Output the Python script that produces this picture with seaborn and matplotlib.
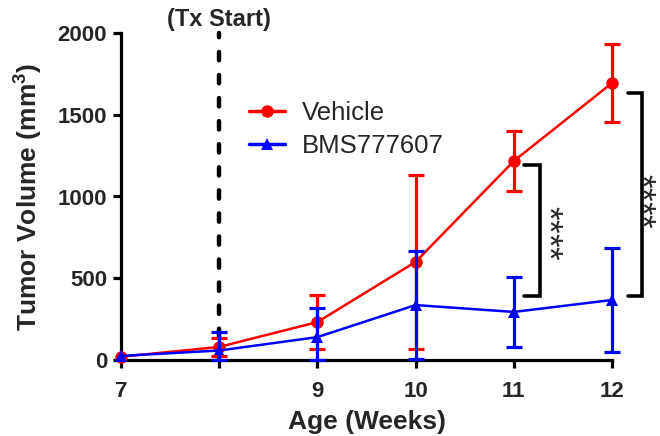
import matplotlib
matplotlib.use("Agg")
import matplotlib.pyplot as plt
import seaborn as sns
import pandas as pd
import numpy as np

# ---- data ----
weeks = [7, 8, 9, 10, 11, 12]
vehicle_mean = [20, 80, 232, 600, 1217, 1694]
vehicle_sd = [np.nan, 55, 165, 531, 183, 238]
bms_mean = [25, 58, 140, 336, 294, 367]
bms_sd = [np.nan, 113, 178, 331, 214, 320]
groups = ["Vehicle", "BMS777607"]
xtick_vals = [7, 8, 9, 10, 11, 12]
xtick_labels = ["7", "", "9", "10", "11", "12"]
ytick_vals = [0, 500, 1000, 1500, 2000]
tx_start_week = 8
# significance brackets: (week, top, bottom)
brackets = [(11, 1193, 391), (12, 1633, 391)]
sig_label = "{*}{*}{*}{*}"

sns.set_style("ticks")
plt.rcParams["font.family"] = ["Liberation Sans", "DejaVu Sans"]
plt.rcParams["mathtext.fontset"] = "custom"
plt.rcParams["mathtext.bf"] = "Liberation Sans:bold"
plt.rcParams["mathtext.rm"] = "Liberation Sans"
plt.rcParams["lines.scale_dashes"] = False

df = pd.DataFrame({
    "week": weeks * 2,
    "volume": vehicle_mean + bms_mean,
    "sd": vehicle_sd + bms_sd,
    "group": [groups[0]] * len(weeks) + [groups[1]] * len(weeks),
})
colors = {"Vehicle": "#ff0000", "BMS777607": "#0000ff"}
markers = {"Vehicle": "o", "BMS777607": "^"}

fig = plt.figure(figsize=(6.6, 4.36), dpi=100)
ax = fig.add_axes([121 / 660, 1 - 360 / 436, 491 / 660, 327 / 436])

# dashed treatment start line
ax.plot([tx_start_week, tx_start_week], [0, 2000], color="black", lw=3.2,
        linestyle=(0, (6.0, 10.6)), dash_capstyle="round", zorder=1, clip_on=False)

sns.lineplot(data=df, x="week", y="volume", hue="group", style="group",
             palette=colors, markers=markers, dashes=False, markersize=9,
             markeredgewidth=0, linewidth=1.8, ax=ax, zorder=3, clip_on=False)

for g in groups:
    sub = df[df["group"] == g].dropna()
    lower = np.minimum(sub["sd"].values, sub["volume"].values)
    upper = sub["sd"].values
    ax.errorbar(sub["week"], sub["volume"], yerr=[lower, upper], fmt="none",
                ecolor=colors[g], elinewidth=2.3, capsize=5.5, capthick=2.3,
                zorder=4, clip_on=False)

ax.set_xlim(7, 12)
ax.set_ylim(0, 2000)
ax.set_xticks(xtick_vals)
ax.set_xticklabels(xtick_labels)
ax.set_yticks(ytick_vals)
for s in ["top", "right"]:
    ax.spines[s].set_visible(False)
for s in ["left", "bottom"]:
    ax.spines[s].set_linewidth(2.3)
    ax.spines[s].set_color("black")
ax.tick_params(axis="both", length=6, width=2.3, color="black", labelsize=16)
ax.tick_params(axis="x", pad=9)
ax.tick_params(axis="y", pad=4)
for lab in ax.get_xticklabels() + ax.get_yticklabels():
    lab.set_fontweight("bold")

ax.set_xlabel("Age (Weeks)", fontsize=19, fontweight="bold", labelpad=6)
ax.set_ylabel(r"Tumor Volume (mm$^\mathbf{3}$)", fontsize=19, fontweight="bold", labelpad=10)

ax.text(tx_start_week, 2085, "(Tx Start)", ha="center", va="center",
        fontsize=17, fontweight="bold", clip_on=False)

# brackets with significance stars
bracket_x = [(0.10, 0.27), (0.16, 0.31)]
star_pos = [(0.36, 777), (0.30, 972)]
for (wk, top, bot), (a, b), (sx, sy) in zip(brackets, bracket_x, star_pos):
    x0, x1 = wk + a, wk + b
    ax.plot([x0, x1, x1, x0], [top, top, bot, bot], color="black", lw=2.6,
            solid_joinstyle="miter", clip_on=False, zorder=2)
    ax.text(wk + sx, sy, r"$\mathregular{" + sig_label + "}$", rotation=-90,
            ha="center", va="center", fontsize=25, clip_on=False)

handles, labels = ax.get_legend_handles_labels()
leg = ax.legend(handles, labels, loc="upper left", bbox_to_anchor=(0.235, 0.83),
                frameon=False, fontsize=18.5, handlelength=1.4, handletextpad=0.65,
                labelspacing=0.35, borderpad=0)
for h in leg.legend_handles:
    h.set_linewidth(2.5)

fig.savefig("out.png", dpi=100)
